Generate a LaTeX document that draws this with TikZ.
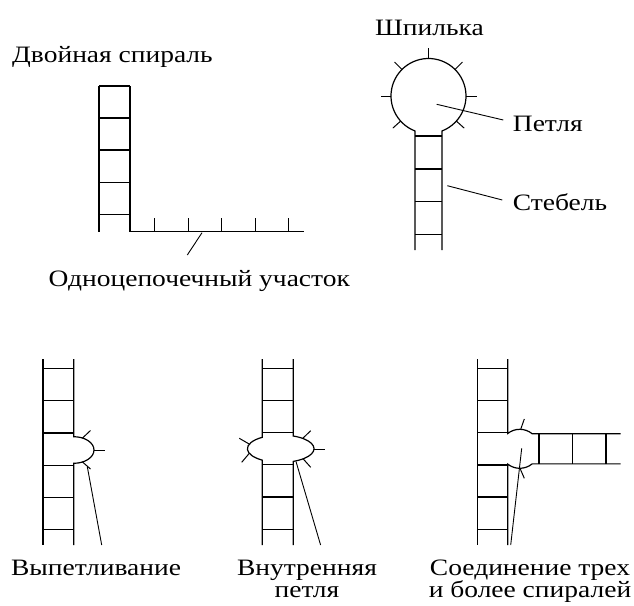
\documentclass[tikz,border=0pt]{standalone}
\usepackage{fontspec}
\setmainfont{Liberation Serif}[FakeStretch=1.17]
\usetikzlibrary{calc}
\begin{document}
\begin{tikzpicture}[x=1pt,y=-1pt,
  strand/.style={line width=1.2pt},
  rung/.style={line width=1.2pt},
  tick/.style={line width=1pt},
  leader/.style={line width=0.9pt},
  lbl/.style={font=\fontsize{23.5}{22.5}\selectfont, inner sep=0pt, anchor=base},
  lblw/.style={lbl, anchor=base west},
]
\useasboundingbox (0,0) rectangle (634,605);

% --- double helix with a single-stranded tail ---
\draw[strand] (99,86) -- (99,231.7);
\draw[strand] (130,86) -- (130,231.7) -- (304,231.7);
\foreach \y in {86,117.9,150,182.1,214.2} \draw[rung] (99,\y) -- (130,\y);
\foreach \x in {154,188,221.7,255,288.7} \draw[tick] (\x,231.7) -- (\x,217.7);
\node[lbl] (ds) at (112.5,62.7) {Двойная спираль};
\node[lbl] (ss) at (199.3,286.7) {Одноцепочечный участок};
\coordinate (ss-a) at (202,232.7);
\coordinate (ss-b) at (187.3,255);
\draw[leader] (ss-a) -- (ss-b);

% --- hairpin: loop on top of a stem ---
\coordinate (hp) at (428.5,96);
\draw[strand] (415.06,250) -- (415.06,131) arc[start angle=111, end angle=429, radius=37.5] -- (441.94,250);
\foreach \y in {136,169,201.7,234.3} \draw[rung] (415.06,\y) -- (441.94,\y);
\foreach \a in {0,42,138,180,225,270,315}
  \draw[tick] ($(hp)+(\a:37.5)$) -- ($(hp)+(\a:48)$);
\node[lbl] (hairpin) at (429.5,35) {Шпилька};
\node[lblw] (loop) at (512.7,131.7) {Петля};
\node[lblw] (stem) at (512.7,210) {Стебель};
\coordinate (loop-a) at (436.7,104.3);
\coordinate (loop-b) at (503.3,120);
\coordinate (stem-a) at (447.3,185.7);
\coordinate (stem-b) at (502.3,200);
\draw[leader] (loop-a) -- (loop-b);
\draw[leader] (stem-a) -- (stem-b);

% --- bulge ---
\draw[strand] (43,359) -- (43,545);
\draw[strand] (73.7,359) -- (73.7,436.7)
  arc[start angle=270, end angle=450, x radius=20.3, y radius=13.3] -- (73.7,545);
\foreach \y in {368.5,400.7,433,465.5,497.5,529.5} \draw[rung] (43,\y) -- (73.7,\y);
\draw[tick] (82.3,438.2) -- (90.5,430.5);
\draw[tick] (94,450) -- (104.7,450);
\draw[tick] (82.3,461.8) -- (90.5,469);
\node[lbl] (bulge) at (96,575) {Выпетливание};
\coordinate (bulge-a) at (87.3,466.7);
\coordinate (bulge-b) at (101.7,545);
\draw[leader] (bulge-a) -- (bulge-b);

% --- internal loop ---
\draw[strand] (262.3,359) -- (262.3,437.3)
  arc[start angle=236.5, end angle=123.5, x radius=33.3, y radius=13.7] -- (262.3,545);
\draw[strand] (293.3,359) -- (293.3,436.0)
  arc[start angle=292.2, end angle=427.8, x radius=33.3, y radius=13.7] -- (293.3,545);
\foreach \y in {368.5,400.5,432.5,464.5,497,529.3} \draw[rung] (262.3,\y) -- (293.3,\y);
\draw[tick] (249.3,444.1) -- (239.3,438.3);
\draw[tick] (249.3,453.3) -- (241.7,462.3);
\draw[tick] (302.7,438.4) -- (310.7,430.7);
\draw[tick] (314,449) -- (325,449);
\draw[tick] (303.3,459) -- (310.7,467.3);
\node[lbl, align=center] (inner) at (307,597.5) {Внутренняя\\петля};
\coordinate (inner-a) at (296,461.5);
\coordinate (inner-b) at (320.6,545);
\draw[leader] (inner-a) -- (inner-b);

% --- three-way junction ---
\draw[strand] (477.7,359) -- (477.7,545);
\draw[strand] (507.7,359) -- (507.7,433.5)
  arc[start angle=231.7, end angle=309.4, radius=19.5] -- ++(88.5,0);
\draw[strand] (507.7,545) -- (507.7,464.1)
  arc[start angle=128.3, end angle=50.6, radius=19.5] -- ++(88.5,0);
\foreach \y in {368.5,400.7,432.7,465,496.9,529.3} \draw[rung] (477.7,\y) -- (507.7,\y);
\foreach \x in {539,572.7,606} \draw[rung] (\x,433.7) -- (\x,463.9);
\draw[tick] (520.7,429.3) -- (524.3,419);
\draw[tick] (520,468.3) -- (524.3,478.3);
\node[lbl, align=center] (junction) at (530,597.5) {Соединение трех\\и более спиралей};
\coordinate (junction-a) at (521.7,448.3);
\coordinate (junction-b) at (510.7,545);
\draw[leader] (junction-a) -- (junction-b);
\end{tikzpicture}
\end{document}
